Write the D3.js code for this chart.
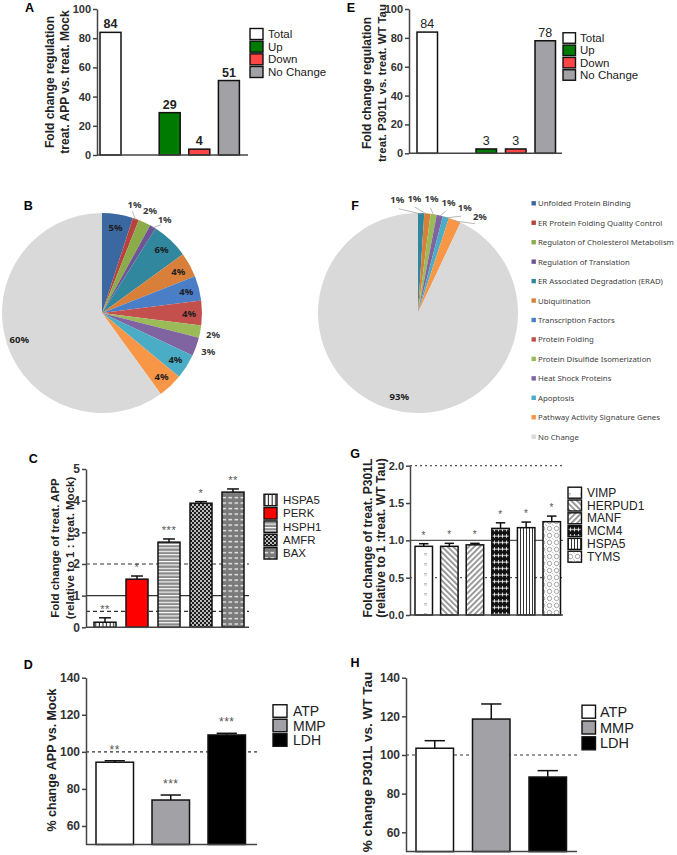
<!DOCTYPE html>
<html><head><meta charset="utf-8">
<script src="https://cdn.jsdelivr.net/npm/d3@7"></script>
<style>
body{margin:0;background:#fff;}
svg{display:block;font-family:"Liberation Sans",Arial,sans-serif;}
</style></head><body>
<svg id="fig" width="677" height="855"></svg>
<script>
// ---------------- DATA ----------------
const regCategories = ["Total", "Up", "Down", "No Change"];
const regAPP = [84, 29, 4, 51];
const regTau = [84, 3, 3, 78];
const regTicks = [0, 20, 40, 60, 80, 100];

const pathways = ["Unfolded Protein Binding", "ER Protein Folding Quality Control",
  "Regulaton of Cholesterol Metabolism", "Regulation of Translation",
  "ER Associated Degradation (ERAD)", "Ubiquitination", "Transcription Factors",
  "Protein Folding", "Protein Disulfide Isomerization", "Heat Shock Proteins",
  "Apoptosis", "Pathway Activity Signature Genes", "No Change"];
const pathwayAPP = [5, 1, 2, 1, 6, 4, 4, 4, 2, 3, 4, 4, 60];
const pathwayTau = [0, 0, 0, 0, 1, 1, 0, 0, 1, 1, 1, 2, 93];

const genesAPP = ["HSPA5", "PERK", "HSPH1", "AMFR", "BAX"];
const foldAPP = [0.16, 1.52, 2.69, 3.92, 4.27];
const foldAPPErr = [0.14, 0.10, 0.10, 0.05, 0.10];
const sigAPP = ["**", "*", "***", "*", "**"];
const foldAPPTicks = [0, 1, 2, 3, 4, 5];

const genesTau = ["VIMP", "HERPUD1", "MANF", "MCM4", "HSPA5", "TYMS"];
const foldTau = [0.92, 0.92, 0.94, 1.16, 1.17, 1.25];
const foldTauErr = [0.035, 0.04, 0.02, 0.075, 0.075, 0.075];
const sigTau = ["*", "*", "*", "*", "*", "*"];
const foldTauTicks = [0, 0.5, 1.0, 1.5, 2.0];

const assays = ["ATP", "MMP", "LDH"];
const pctAPP = [94.4, 74.0, 109.1];
const pctAPPErr = [0.8, 2.7, 0.9];
const sigPctAPP = ["**", "***", "***"];
const pctTau = [103.5, 118.6, 88.6];
const pctTauErr = [3.9, 7.8, 3.3];
const pctTicks = [60, 80, 100, 120, 140];

// ---------------- STYLES ----------------
const regColors = {"Total": "#ffffff", "Up": "#007a00", "Down": "#ff4545", "No Change": "#a2a2a6"};
const assayColors = {"ATP": "#ffffff", "MMP": "#a2a2a6", "LDH": "#000000"};
const pieColors = ["#3c68a2", "#b8423f", "#8cac4b", "#6e5494", "#31879d", "#d8803a",
  "#4a7ec6", "#c4504d", "#9bbb59", "#8064a2", "#4bacc6", "#f79646", "#d9d9d9"];

const svg = d3.select("#fig");
const defs = svg.append("defs");

function pattern(id, w, h, bg, draw, transform) {
  const p = defs.append("pattern").attr("id", id).attr("patternUnits", "userSpaceOnUse")
    .attr("width", w).attr("height", h);
  if (transform) p.attr("patternTransform", transform);
  p.append("rect").attr("width", w).attr("height", h).attr("fill", bg);
  draw(p);
}
// C patterns
pattern("pVstripe", 3.6, 4, "#fff", p => p.append("rect").attr("x", 1.6).attr("width", 1.1).attr("height", 4).attr("fill", "#222"));
pattern("pHstripe", 4, 3.4, "#8a8a8a", p => p.append("rect").attr("y", 0).attr("width", 4).attr("height", 1.1).attr("fill", "#fff"));
pattern("pChecker", 4, 4, "#1e1e1e", p => {
  p.append("circle").attr("cx", 1).attr("cy", 1).attr("r", 0.95).attr("fill", "#fff");
  p.append("circle").attr("cx", 3).attr("cy", 3).attr("r", 0.95).attr("fill", "#fff");
});
pattern("pDash", 6, 5.5, "#7a7a7a", p => p.append("rect").attr("x", 0.5).attr("y", 2).attr("width", 3.6).attr("height", 1.2).attr("fill", "#fff"));
// G patterns
pattern("pSparse", 12, 10, "#fff", p => {
  p.append("rect").attr("x", 4).attr("y", 3).attr("width", 3).attr("height", 0.7).attr("fill", "#aaa");
  p.append("rect").attr("x", 4).attr("y", 4.6).attr("width", 3).attr("height", 0.7).attr("fill", "#aaa");
});
pattern("pBack", 4, 4, "#fff", p => p.append("rect").attr("x", 1.5).attr("width", 0.9).attr("height", 4).attr("fill", "#222"), "rotate(-45)");
pattern("pFwd", 4, 4, "#fff", p => p.append("rect").attr("x", 1.5).attr("width", 0.9).attr("height", 4).attr("fill", "#222"), "rotate(45)");
pattern("pCross", 8, 6.5, "#111", p => {
  p.append("rect").attr("y", 2.6).attr("width", 8).attr("height", 0.9).attr("fill", "#fff");
  p.append("rect").attr("x", 2).attr("y", 1).attr("width", 0.8).attr("height", 4).attr("fill", "#fff");
  p.append("rect").attr("x", 6).attr("y", 1).attr("width", 0.8).attr("height", 4).attr("fill", "#fff");
});
pattern("pVstripe2", 3, 4, "#fff", p => p.append("rect").attr("x", 1).attr("width", 1).attr("height", 4).attr("fill", "#333"));
pattern("pRings", 7, 7, "#fff", p => {
  p.append("circle").attr("cx", 3.5).attr("cy", 3.5).attr("r", 2.2).attr("fill", "none").attr("stroke", "#9a9a9a").attr("stroke-width", 0.9);
  p.append("circle").attr("cx", 0).attr("cy", 0).attr("r", 1).attr("fill", "#bbb");
  p.append("circle").attr("cx", 7).attr("cy", 7).attr("r", 1).attr("fill", "#bbb");
});
const foldAPPFill = {"HSPA5": "url(#pVstripe)", "PERK": "#ff0000", "HSPH1": "url(#pHstripe)", "AMFR": "url(#pChecker)", "BAX": "url(#pDash)"};
const foldTauFill = {"VIMP": "url(#pSparse)", "HERPUD1": "url(#pBack)", "MANF": "url(#pFwd)", "MCM4": "url(#pCross)", "HSPA5": "url(#pVstripe2)", "TYMS": "url(#pRings)"};

// ---------------- HELPERS ----------------
function panelLetter(t, x, y) {
  svg.append("text").attr("x", x).attr("y", y).attr("text-anchor", "middle")
    .attr("dominant-baseline", "central").attr("font-size", 12.5).attr("font-weight", "bold").text(t);
}
function yTitle(lines, xs, cy, sizes) {
  lines.forEach((l, i) => {
    svg.append("text").attr("transform", `translate(${xs[i]},${cy}) rotate(-90)`)
      .attr("text-anchor", "middle").attr("dominant-baseline", "central")
      .attr("font-size", Array.isArray(sizes) ? sizes[i] : sizes).attr("font-weight", "bold").attr("fill", "#222").text(l);
  });
}
function legend(items, fills, x, y0, y1, boxW, boxH, textX, size) {
  const y = d3.scalePoint().domain(items).range([y0, y1]);
  const g = svg.append("g");
  items.forEach(k => {
    g.append("rect").attr("x", x).attr("y", y(k) - boxH / 2).attr("width", boxW).attr("height", boxH)
      .attr("fill", fills[k]).attr("stroke", "#111").attr("stroke-width", 1.4);
    g.append("text").attr("x", textX).attr("y", y(k)).attr("dominant-baseline", "central")
      .attr("font-size", size).attr("fill", "#222").text(k);
  });
}
function barPanel(c) {
  const g = svg.append("g");
  const y = d3.scaleLinear().domain(c.yDomain).range(c.yRange);
  const n = c.slots.length;
  const x = d3.scaleBand().domain(c.slots)
    .range([c.first, c.first + (n - 1) * c.step + c.bw])
    .paddingInner(1 - c.bw / c.step).paddingOuter(0);
  (c.refs || []).forEach(r => {
    g.append("line").attr("x1", c.axisX).attr("x2", c.axisEnd).attr("y1", y(r.v)).attr("y2", y(r.v))
      .attr("stroke", r.color).attr("stroke-width", r.w).attr("stroke-dasharray", r.dash || null);
  });
  const data = c.cats.map((k, i) => ({k, v: c.vals[i], e: c.errs ? c.errs[i] : null, s: c.sigs ? c.sigs[i] : null}));
  const base = y(c.yDomain[0]);
  g.selectAll("rect.bar").data(data).join("rect").attr("class", "bar")
    .attr("x", d => x(d.k)).attr("width", x.bandwidth())
    .attr("y", d => y(d.v)).attr("height", d => base - y(d.v))
    .attr("fill", d => c.fills[d.k]).attr("stroke", "#111").attr("stroke-width", 1.5);
  if (c.errs) {
    data.forEach(d => {
      const cx = x(d.k) + x.bandwidth() / 2, cw = x.bandwidth() * 0.27;
      g.append("line").attr("x1", cx).attr("x2", cx).attr("y1", y(d.v)).attr("y2", y(d.v + d.e))
        .attr("stroke", "#111").attr("stroke-width", 1.5);
      g.append("line").attr("x1", cx - cw).attr("x2", cx + cw).attr("y1", y(d.v + d.e)).attr("y2", y(d.v + d.e))
        .attr("stroke", "#111").attr("stroke-width", 1.5);
    });
  }
  if (c.sigs) {
    data.forEach(d => {
      g.append("text").attr("x", x(d.k) + x.bandwidth() / 2).attr("y", y(d.v + d.e) + c.sigOffset)
        .attr("text-anchor", "middle").attr("font-size", c.sigSize).attr("fill", "#555")
        .attr("letter-spacing", 0.5).text(d.s);
    });
  }
  if (c.valueLabels) {
    data.forEach(d => {
      g.append("text").attr("x", x(d.k) + x.bandwidth() / 2).attr("y", y(d.v) - 4)
        .attr("text-anchor", "middle").attr("font-size", 12.5).attr("font-weight", c.valueWeight)
        .attr("fill", "#222").text(d.v);
    });
  }
  g.append("line").attr("x1", c.axisX).attr("x2", c.axisEnd).attr("y1", base).attr("y2", base)
    .attr("stroke", "#444").attr("stroke-width", 1.5);
  const ax = d3.axisLeft(y).tickValues(c.ticks).tickSize(4).tickSizeOuter(0).tickPadding(2).tickFormat(c.fmt);
  const ag = g.append("g").attr("transform", `translate(${c.axisX},0)`).call(ax);
  ag.select(".domain").attr("stroke", "#444").attr("stroke-width", 1.5);
  ag.selectAll(".tick line").attr("stroke", "#444").attr("stroke-width", 1.5);
  ag.selectAll(".tick text").attr("font-size", c.tickSize).attr("font-weight", "bold").attr("fill", "#333")
    .attr("font-family", "Liberation Sans, Arial, sans-serif");
}
function piePanel(c) {
  const g = svg.append("g").attr("transform", `translate(${c.cx},${c.cy})`);
  const items = c.vals.map((v, i) => ({v, i})).filter(d => d.v > 0);
  const arcs = d3.pie().sort(null).value(d => d.v)(items);
  const arc = d3.arc().innerRadius(0).outerRadius(c.R);
  g.selectAll("path").data(arcs).join("path").attr("d", arc).attr("fill", d => pieColors[d.data.i]);
  const pt = (a, r) => [Math.sin(a) * r, -Math.cos(a) * r];
  arcs.filter(a => a.data.v >= c.insideMin).forEach(a => {
    const [px, py] = pt((a.startAngle + a.endAngle) / 2, c.rIn);
    g.append("text").attr("x", px).attr("y", py).attr("text-anchor", "middle").attr("dominant-baseline", "central")
      .attr("font-family", "Noto Sans, sans-serif").attr("font-size", 9.5).attr("font-weight", "bold")
      .attr("fill", "#1d1d1d").text(a.data.v + "%");
  });
  const outs = arcs.filter(a => a.data.v < c.insideMin);
  const want = outs.map(a => (a.startAngle + a.endAngle) / 2);
  const ang = want.slice();
  const minSep = c.minSep * Math.PI / 180;
  for (let it = 0; it < 300; it++) {
    for (let i = 1; i < ang.length; i++) {
      const gap = ang[i] - ang[i - 1];
      if (gap < minSep) { const d = (minSep - gap) / 2; ang[i - 1] -= d; ang[i] += d; }
    }
  }
  outs.forEach((a, i) => {
    if (Math.abs(ang[i] - want[i]) > 1.5 * Math.PI / 180) {
      const [x1, y1] = pt(want[i], c.R - 1), [x2, y2] = pt(ang[i], c.R + 6);
      g.append("line").attr("x1", x1).attr("y1", y1).attr("x2", x2).attr("y2", y2)
        .attr("stroke", "#999").attr("stroke-width", 0.7);
    }
    const [px, py] = pt(ang[i], c.rOut);
    g.append("text").attr("x", px).attr("y", py).attr("text-anchor", "middle").attr("dominant-baseline", "central")
      .attr("font-family", "Noto Sans, sans-serif").attr("font-size", 9.5).attr("font-weight", "bold")
      .attr("fill", "#3a3a3a").text(a.data.v + "%");
  });
}

// ---------------- PANEL A ----------------
panelLetter("A", 29.5, 7.5);
yTitle(["Fold change regulation", "treat. APP vs. treat. Mock"], [50, 65], 82, 12);
barPanel({slots: [regCategories[0], "_gap", ...regCategories.slice(1)], cats: regCategories, vals: regAPP,
  fills: regColors, yDomain: [0, 100], yRange: [155, 9], first: 100, bw: 21, step: 29.6,
  axisX: 97, axisEnd: 248, ticks: regTicks, fmt: d3.format("d"), tickSize: 11,
  valueLabels: true, valueWeight: "bold"});
legend(regCategories, regColors, 250, 34, 72, 13, 11, 268, 11.5);

// ---------------- PANEL E ----------------
panelLetter("E", 351, 7.5);
yTitle(["Fold change regulation", "treat. P301L vs. treat. WT Tau"], [367, 382], 83, [12, 11.4]);
barPanel({slots: [regCategories[0], "_gap", ...regCategories.slice(1)], cats: regCategories, vals: regTau,
  fills: regColors, yDomain: [0, 100], yRange: [153.3, 9], first: 417, bw: 20.5, step: 29.5,
  axisX: 409, axisEnd: 562, ticks: regTicks, fmt: d3.format("d"), tickSize: 11,
  valueLabels: true, valueWeight: "normal"});
legend(regCategories, regColors, 563, 38, 75, 12.5, 10.5, 580, 11.5);

// ---------------- PANEL B ----------------
panelLetter("B", 28.3, 205.7);
piePanel({cx: 102, cy: 313, R: 100, vals: pathwayAPP, insideMin: 4, rIn: 87, rOut: 113, minSep: 8.5});

// ---------------- PANEL F ----------------
panelLetter("F", 355, 205.7);
piePanel({cx: 418, cy: 313, R: 100, vals: pathwayTau, insideMin: 10, rIn: 86, rOut: 115, minSep: 8.6});
{
  const ly = d3.scalePoint().domain(pathways).range([203.3, 436.7]);
  const lg = svg.append("g");
  pathways.forEach((p, i) => {
    lg.append("rect").attr("x", 531.5).attr("y", ly(p) - 2.2).attr("width", 4.4).attr("height", 4.4).attr("fill", pieColors[i]);
    lg.append("text").attr("x", 538).attr("y", ly(p)).attr("dominant-baseline", "central")
      .attr("font-family", "Noto Sans, sans-serif").attr("font-size", 7.8).attr("fill", "#404040").text(p);
  });
}

// ---------------- PANEL C ----------------
panelLetter("C", 33.3, 459.3);
yTitle(["Fold change of treat. APP", "(relative to 1 : treat. Mock)"], [55, 70], 548, 11.5);
barPanel({slots: genesAPP, cats: genesAPP, vals: foldAPP, errs: foldAPPErr, sigs: sigAPP,
  fills: foldAPPFill, yDomain: [0, 5], yRange: [627.3, 469], first: 94, bw: 22, step: 32,
  axisX: 86, axisEnd: 249, ticks: foldAPPTicks, fmt: d3.format("d"), tickSize: 12,
  sigOffset: -5, sigSize: 11,
  refs: [{v: 2, color: "#333", w: 1.2, dash: "4,3"}, {v: 1, color: "#333", w: 1.2}, {v: 0.5, color: "#333", w: 1.2, dash: "4,3"}]});
legend(genesAPP, foldAPPFill, 264, 500, 553.3, 13, 11.5, 283, 11.5);

// ---------------- PANEL G ----------------
panelLetter("G", 355, 454.3);
yTitle(["Fold change of treat. P301L", "(relative to 1 :treat. WT Tau)"], [368, 381], 538, 12.2);
barPanel({slots: genesTau, cats: genesTau, vals: foldTau, errs: foldTauErr, sigs: sigTau,
  fills: foldTauFill, yDomain: [0, 2], yRange: [615, 465.7], first: 415, bw: 17.5, step: 25.6,
  axisX: 410, axisEnd: 563, ticks: foldTauTicks, fmt: d3.format(".1f"), tickSize: 11,
  sigOffset: -5, sigSize: 10,
  refs: [{v: 2, color: "#555", w: 1.2, dash: "2,3"}, {v: 1, color: "#555", w: 1.3}, {v: 0.5, color: "#555", w: 1.2, dash: "2,3"}]});
legend(genesTau, foldTauFill, 568, 492.7, 556.7, 13.5, 11, 587, 12);

// ---------------- PANEL D ----------------
panelLetter("D", 28.3, 665);
yTitle(["% change APP vs. Mock"], [52], 760, 12.5);
barPanel({slots: assays, cats: assays, vals: pctAPP, errs: pctAPPErr, sigs: sigPctAPP,
  fills: assayColors, yDomain: [50, 140], yRange: [844.5, 677.7], first: 96, bw: 37.5, step: 56,
  axisX: 86, axisEnd: 257, ticks: pctTicks, fmt: d3.format("d"), tickSize: 12,
  sigOffset: -7, sigSize: 12,
  refs: [{v: 100, color: "#333", w: 1.2, dash: "3,3"}]});
legend(assays, assayColors, 273, 711, 740, 14, 12.5, 293, 14);

// ---------------- PANEL H ----------------
panelLetter("H", 355, 663.3);
yTitle(["% change P301L vs. WT Tau"], [367], 762, 13.5);
barPanel({slots: assays, cats: assays, vals: pctTau, errs: pctTauErr,
  fills: assayColors, yDomain: [50, 140], yRange: [851.6, 677.7], first: 416, bw: 37.5, step: 56.5,
  axisX: 406, axisEnd: 577, ticks: pctTicks, fmt: d3.format("d"), tickSize: 12,
  refs: [{v: 100, color: "#333", w: 1.2, dash: "3,3"}]});
legend(assays, assayColors, 582, 711.7, 743.3, 13.5, 13, 600, 14.5);
</script>
</body></html>
